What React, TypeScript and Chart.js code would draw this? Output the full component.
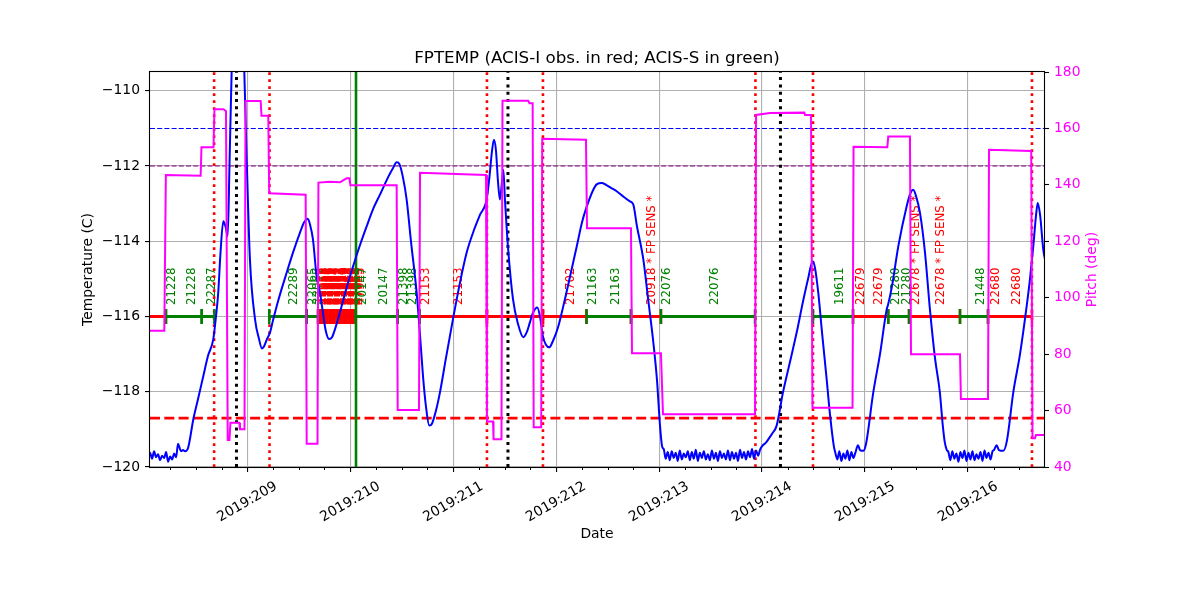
import React, { useEffect, useRef } from 'react';
import { Chart, registerables } from 'chart.js';

Chart.register(...registerables);

// ---------------- data ----------------
const yearLabel = '2019';
const dayMin = 208.055;
const dayMax = 216.739;
const tempMin = -120;
const tempMax = -109.5;
const pitchMin = 40;
const pitchMax = 180;

const tempDays = [
  208.327, 208.341, 208.356, 208.376, 208.395, 208.424, 208.476, 208.521, 208.573, 208.618,
  208.670, 208.696, 208.718, 208.740, 208.767, 208.788, 208.810, 208.827, 208.848, 208.871,
  208.910, 208.944, 208.971, 208.994, 209.026, 209.075, 209.114, 209.143, 209.162, 209.191,
  209.221, 209.250, 209.298, 209.383, 209.444, 209.512, 209.551, 209.587, 209.609, 209.638,
  209.672, 209.706, 209.735, 209.764, 209.794, 209.823, 209.862, 209.900, 209.958, 210.027,
  210.095, 210.160, 210.221, 210.289, 210.367, 210.416, 210.451, 210.478, 210.512, 210.548,
  210.590, 210.645, 210.678, 210.707, 210.736, 210.768, 210.794, 210.833, 210.872, 210.930,
  210.998, 211.066, 211.131, 211.202, 211.260, 211.325, 211.352, 211.377, 211.396, 211.416,
  211.435, 211.454, 211.468, 211.487, 211.503, 211.532, 211.581, 211.630, 211.681, 211.717,
  211.746, 211.775, 211.817, 211.843, 211.872, 211.901, 211.933, 211.969, 212.017, 212.069,
  212.134, 212.200, 212.251, 212.297, 212.361, 212.397, 212.443, 212.484, 212.533, 212.588,
  212.639, 212.717, 212.749, 212.785, 212.847, 212.892, 212.944, 212.980, 213.009, 213.031,
  213.999, 214.038, 214.077, 214.096, 214.142, 214.204, 214.272, 214.337, 214.398, 214.447,
  214.492, 214.514, 214.546, 214.582, 214.628, 214.660, 214.699, 214.932, 214.952, 214.983,
  215.009, 215.081, 215.146, 215.211, 215.223, 215.262, 215.324, 215.405, 215.437, 215.469,
  215.496, 215.534, 215.583, 215.631, 215.680, 215.727, 215.756, 215.775, 215.795, 216.253,
  216.279, 216.301, 216.343, 216.379, 216.441, 216.506, 216.571, 216.603, 216.635, 216.662,
  216.678, 216.701, 216.732, 216.758,
];
const tempVals = [
  -119.38, -119.48, -119.58, -119.55, -119.58, -119.50, -118.73, -118.20, -117.58, -117.05,
  -116.60, -116.00, -115.36, -114.30, -113.47, -113.60, -113.86, -112.00, -109.50, -107.80,
  -107.00, -107.80, -109.50, -111.80, -114.50, -116.07, -116.60, -116.85, -116.80, -116.60,
  -116.42, -116.10, -115.60, -114.83, -114.30, -113.77, -113.50, -113.40, -113.55, -113.95,
  -114.90, -115.36, -115.90, -116.40, -116.60, -116.55, -116.25, -115.89, -115.30, -114.67,
  -114.10, -113.60, -113.15, -112.76, -112.30, -112.05, -111.90, -111.95, -112.30, -112.89,
  -114.00, -115.36, -116.50, -117.59, -118.40, -118.90, -118.85, -118.50, -118.01, -117.10,
  -116.07, -115.10, -114.30, -113.70, -113.30, -112.89, -112.30, -111.60, -111.30, -111.60,
  -112.40, -112.89, -112.60, -112.10, -112.90, -114.14, -115.54, -116.20, -116.55, -116.40,
  -116.15, -115.90, -115.76, -116.00, -116.53, -116.75, -116.82, -116.65, -116.30, -115.73,
  -114.95, -114.14, -113.50, -113.08, -112.63, -112.48, -112.45, -112.50, -112.58, -112.67,
  -112.78, -112.94, -113.02, -113.60, -114.48, -115.50, -116.68, -117.70, -118.90, -119.47,
  -119.45, -119.35, -119.20, -119.12, -118.90, -118.01, -117.20, -116.42, -115.60, -115.00,
  -114.53, -114.70, -115.36, -116.40, -117.67, -118.60, -119.47, -119.42, -119.55, -119.57,
  -119.40, -118.01, -117.00, -115.81, -115.70, -115.20, -114.13, -113.07, -112.75, -112.63,
  -112.80, -113.24, -114.30, -115.81, -117.10, -118.01, -118.90, -119.34, -119.55, -119.55,
  -119.42, -119.55, -119.57, -119.30, -118.01, -117.00, -115.72, -115.00, -114.13, -113.30,
  -112.98, -113.30, -114.22, -114.60,
];

// cold-plateau telemetry samples (regular cadence)
const noiseStep = 0.0195;
const noiseStarts = [208.036, 213.045, 214.712, 215.810];
const noiseA = [-119.70, -119.62, -119.78, -119.58, -119.74, -119.66, -119.82, -119.70, -119.76, -119.60,
  -119.86, -119.72, -119.80, -119.64, -119.74];
const noiseB = [-119.52, -119.78, -119.60, -119.82, -119.58, -119.76, -119.62, -119.84, -119.56, -119.80,
  -119.64, -119.74, -119.58, -119.82, -119.60, -119.78, -119.54, -119.84, -119.62, -119.76,
  -119.58, -119.80, -119.66, -119.82, -119.56, -119.78, -119.62, -119.84, -119.58, -119.76,
  -119.64, -119.80, -119.56, -119.82, -119.60, -119.78, -119.62, -119.84, -119.54, -119.76,
  -119.60, -119.80, -119.58, -119.74, -119.52, -119.78, -119.56, -119.70, -119.54];
const noiseC = [-119.62, -119.80, -119.58, -119.84, -119.64, -119.78, -119.56, -119.82, -119.60, -119.76, -119.62];
const noiseD = [-119.60, -119.82, -119.58, -119.78, -119.64, -119.86, -119.60, -119.76, -119.56, -119.84,
  -119.62, -119.80, -119.58, -119.82, -119.66, -119.78, -119.60, -119.84, -119.56, -119.76,
  -119.62, -119.80, -119.58];
const noiseVals = [noiseA, noiseB, noiseC, noiseD];

const pitchDays = [
  208.000, 208.194, 208.209, 208.547, 208.555, 208.672, 208.681, 208.767, 208.793, 208.810,
  208.827, 208.836, 208.922, 208.929, 208.973, 208.983, 209.130, 209.138, 209.204, 209.213,
  209.567, 209.577, 209.682, 209.691, 209.803, 209.900, 209.965, 209.992, 210.002, 210.451,
  210.461, 210.668, 210.678, 211.319, 211.328, 211.387, 211.392, 211.469, 211.479, 211.729,
  211.741, 211.772, 211.782, 211.855, 211.865, 212.290, 212.300, 212.727, 212.737, 213.018,
  213.038, 213.932, 213.942, 214.078, 214.411, 214.418, 214.476, 214.490, 214.879, 214.889,
  215.217, 215.226, 215.437, 215.447, 215.923, 215.932, 216.195, 216.205, 216.615, 216.627,
  216.651, 216.661, 216.748,
];
const pitchVals = [
  88.3, 88.3, 143.5, 143.2, 153.3, 153.3, 166.8, 166.8, 166.2, 49.6,
  49.6, 55.7, 55.7, 53.4, 53.4, 169.7, 169.7, 164.5, 164.5, 137.0,
  136.5, 48.2, 48.2, 140.8, 141.1, 140.9, 142.3, 142.3, 139.9, 139.9,
  60.2, 60.2, 144.3, 143.5, 56.1, 56.1, 49.8, 49.8, 169.8, 169.8,
  168.9, 168.9, 54.1, 54.1, 156.3, 156.0, 124.6, 124.6, 80.3, 80.3,
  58.7, 58.7, 164.8, 165.5, 165.6, 164.8, 164.8, 61.0, 61.0, 153.5,
  153.3, 157.1, 157.1, 80.0, 80.0, 64.1, 64.1, 152.4, 152.0, 50.2,
  50.2, 51.3, 51.3,
];

// observations (I = ACIS-I red, S = ACIS-S green)
const obsLevel = -116;
const obsStart = [
  207.800, 208.210, 208.557, 209.213, 209.577,
  209.687, 209.710, 209.732, 209.755, 209.778, 209.801, 209.823, 209.846,
  209.869, 209.892, 209.914, 209.937, 209.960, 209.983, 210.005, 210.028,
  210.051, 210.461, 210.675, 211.328, 211.872, 212.295, 212.727, 213.018,
  214.495, 214.884, 215.226, 215.428, 215.923, 216.195,
];
const obsStop = [
  208.210, 208.557, 208.680, 209.577, 209.687,
  209.710, 209.732, 209.755, 209.778, 209.801, 209.823, 209.846, 209.869,
  209.892, 209.914, 209.937, 209.960, 209.983, 210.005, 210.028, 210.051,
  210.461, 210.675, 211.328, 211.872, 212.295, 212.727, 213.018, 213.932,
  214.884, 215.226, 215.428, 215.923, 216.195, 216.622,
];
const obsInst = [
  'I', 'S', 'S', 'S', 'S',
  'I', 'I', 'I', 'I', 'I', 'I', 'I', 'I',
  'I', 'I', 'I', 'I', 'I', 'I', 'I', 'I',
  'S', 'S', 'I', 'I', 'I', 'S', 'I', 'S',
  'S', 'I', 'S', 'I', 'S', 'I',
];

const labelDays = [
  208.210, 208.398, 208.599, 209.391, 209.576, 209.628,
  209.687, 209.698, 209.710, 209.721, 209.732, 209.744, 209.755, 209.767,
  209.778, 209.789, 209.801, 209.812, 209.823, 209.835, 209.846, 209.858,
  209.869, 209.880, 209.892, 209.903, 209.914, 209.926, 209.937, 209.948,
  209.960, 209.971, 209.983, 209.994, 210.005, 210.017, 210.028, 210.039,
  210.061, 210.266, 210.460, 210.551, 210.671, 210.998, 212.079, 212.296,
  212.516, 212.866, 213.018, 213.481, 214.695, 214.896, 215.074, 215.243,
  215.343, 215.437, 215.673, 216.062, 216.207, 216.411,
];
const labelTexts = [
  '21228', '21228', '22287', '22289', '22065', '22065',
  '47958', '47958', '47957', '47957', '47956', '47956', '47955', '47955',
  '47954', '47954', '47953', '47953', '47952', '47952', '47951', '47951',
  '47950', '47950', '47949', '47949', '47948', '47948', '47947', '47947',
  '47946', '47946', '47945', '47945', '47944', '47944', '47943', '47943',
  '20147', '20147', '21398', '21398', '21153', '21153', '21702', '21163',
  '21163', '20918 * FP SENS *', '22076', '22076', '19611', '22679', '22679', '21280',
  '21280', '22678 * FP SENS *', '22678 * FP SENS *', '21448', '22680', '22680',
];
const labelInst = [
  'S', 'S', 'S', 'S', 'S', 'S',
  'I', 'I', 'I', 'I', 'I', 'I', 'I', 'I',
  'I', 'I', 'I', 'I', 'I', 'I', 'I', 'I',
  'I', 'I', 'I', 'I', 'I', 'I', 'I', 'I',
  'I', 'I', 'I', 'I', 'I', 'I', 'I', 'I',
  'S', 'S', 'S', 'S', 'I', 'I', 'I', 'S',
  'S', 'I', 'S', 'S', 'S', 'I', 'I', 'S',
  'S', 'I', 'I', 'S', 'I', 'I',
];

const radDays = [208.678, 209.216, 211.328, 211.872, 213.936, 214.495, 216.622];
const commDays = [208.895, 211.532, 214.179];
const markDays = [210.056];

const limitPlanning = -111;
const limitYellow = -112;
const limitRed = -118.7;

// ---------------- styling ----------------
const FONT = "'DejaVu Sans', 'Liberation Sans', sans-serif";
const COL = {
  temp: '#0000ff',
  pitch: '#ff00ff',
  I: '#ff0000',
  S: '#008000',
  grid: '#b0b0b0',
  black: '#000000',
  purple: '#800080',
};

function fmtMinus(v: number) {
  return v < 0 ? '\u2212' + Math.abs(v) : String(v);
}

function buildTemp() {
  const pts: { x: number; y: number }[] = [];
  tempDays.forEach((d, i) => pts.push({ x: d, y: tempVals[i] }));
  noiseVals.forEach((vals, k) => {
    vals.forEach((v, i) => pts.push({ x: noiseStarts[k] + i * noiseStep, y: v }));
  });
  pts.sort((a, b) => a.x - b.x);
  return pts;
}

function buildObs(inst: string) {
  const pts: { x: number; y: number | null }[] = [];
  obsStart.forEach((s, i) => {
    if (obsInst[i] !== inst) return;
    pts.push({ x: s, y: obsLevel }, { x: obsStop[i], y: obsLevel }, { x: obsStop[i], y: null });
  });
  return pts;
}

function vline(d: number, color: string, width: number, dash: number[]) {
  return {
    type: 'line',
    data: [{ x: d, y: tempMin }, { x: d, y: tempMax }],
    borderColor: color,
    borderWidth: width,
    borderDash: dash,
    borderCapStyle: 'butt',
    pointRadius: 0,
    yAxisID: 'y',
  };
}

function hline(v: number, color: string, width: number, dash: number[]) {
  return {
    type: 'line',
    data: [{ x: dayMin, y: v }, { x: dayMax, y: v }],
    borderColor: color,
    borderWidth: width,
    borderDash: dash,
    borderCapStyle: 'butt',
    pointRadius: 0,
    yAxisID: 'y',
  };
}

const overlay = {
  id: 'overlay',
  beforeDatasetsDraw(chart: any) {
    const { ctx, chartArea: ca } = chart;
    const xs = chart.scales.x;
    const ys = chart.scales.y;
    const yb = ys.getPixelForValue(obsLevel) - 11.5;
    ctx.save();
    ctx.font = `11.8px ${FONT}`;
    ctx.textAlign = 'left';
    ctx.textBaseline = 'alphabetic';
    labelDays.forEach((d, i) => {
      if (d < dayMin || d > dayMax) return;
      const px = xs.getPixelForValue(d);
      if (px < ca.left || px > ca.right) return;
      ctx.save();
      ctx.translate(px + 9.3, yb);
      ctx.rotate(-Math.PI / 2);
      ctx.fillStyle = labelInst[i] === 'I' ? COL.I : COL.S;
      ctx.fillText(labelTexts[i], 0, 0);
      ctx.restore();
    });
    ctx.restore();
  },
  afterDatasetsDraw(chart: any) {
    const { ctx, chartArea: ca } = chart;
    ctx.save();
    ctx.strokeStyle = COL.black;
    ctx.lineWidth = 1.1;
    ctx.strokeRect(Math.round(ca.left) - 0.5, Math.round(ca.top) - 0.5,
      Math.round(ca.right - ca.left) + 1, Math.round(ca.bottom - ca.top) + 1);
    ctx.restore();
  },
  afterDraw(chart: any) {
    const { ctx, chartArea: ca } = chart;
    const xs = chart.scales.x;
    const cx = (ca.left + ca.right) / 2;
    const cy = (ca.top + ca.bottom) / 2;
    ctx.save();
    // minor ticks (6 h)
    ctx.strokeStyle = COL.black;
    ctx.lineWidth = 1;
    for (let q = Math.ceil(dayMin * 4); q <= Math.floor(dayMax * 4); q++) {
      if (q % 4 === 0) continue;
      const px = Math.round(xs.getPixelForValue(q / 4)) + 0.5;
      ctx.beginPath();
      ctx.moveTo(px, ca.bottom);
      ctx.lineTo(px, ca.bottom + 3);
      ctx.stroke();
    }
    // x tick labels
    ctx.fillStyle = COL.black;
    ctx.font = `13.9px ${FONT}`;
    ctx.textAlign = 'center';
    ctx.textBaseline = 'middle';
    xs.ticks.forEach((t: any) => {
      const px = xs.getPixelForValue(t.value);
      ctx.save();
      ctx.translate(px, ca.bottom + 35);
      ctx.rotate(-Math.PI / 6);
      ctx.fillText(`${yearLabel}:${t.value}`, 0, 0);
      ctx.restore();
    });
    // axis titles
    ctx.fillText('Date', cx, ca.bottom + 67);
    ctx.save();
    ctx.translate(88, cy);
    ctx.rotate(-Math.PI / 2);
    ctx.fillText('Temperature (C)', 0, 0);
    ctx.restore();
    ctx.save();
    ctx.fillStyle = COL.pitch;
    ctx.translate(1092, cy);
    ctx.rotate(-Math.PI / 2);
    ctx.fillText('Pitch (deg)', 0, 0);
    ctx.restore();
    // title
    ctx.font = `16.7px ${FONT}`;
    ctx.textBaseline = 'alphabetic';
    ctx.fillText('FPTEMP (ACIS-I obs. in red; ACIS-S in green)', cx, ca.top - 9);
    ctx.restore();
  },
};

export default function App() {
  const ref = useRef<HTMLCanvasElement>(null);
  useEffect(() => {
    if (!ref.current) return;
    const obsStyle = (color: string) => ({
      borderColor: color,
      borderWidth: 2.8,
      borderCapStyle: 'butt',
      pointStyle: 'line',
      pointRotation: 90,
      pointRadius: 7.5,
      pointBorderWidth: 2.5,
      pointBorderColor: color,
      pointBackgroundColor: color,
      yAxisID: 'y',
    });
    const datasets: any[] = [
      {
        label: 'Pitch',
        data: pitchDays.map((d, i) => ({ x: d, y: pitchVals[i] })),
        borderColor: COL.pitch,
        borderWidth: 2,
        pointRadius: 0,
        yAxisID: 'y2',
      },
      {
        label: 'FPTEMP',
        data: buildTemp(),
        borderColor: COL.temp,
        borderWidth: 2,
        pointRadius: 0,
        cubicInterpolationMode: 'monotone',
        yAxisID: 'y',
      },
      { label: 'ACIS-S', data: buildObs('S'), ...obsStyle(COL.S) },
      { label: 'ACIS-I', data: buildObs('I'), ...obsStyle(COL.I) },
      ...commDays.map((d) => vline(d, COL.black, 3, [3, 4.3])),
      ...radDays.map((d) => vline(d, COL.I, 2.6, [2.8, 4.2])),
      ...markDays.map((d) => vline(d, COL.S, 2.6, [])),
      hline(limitPlanning, COL.temp, 1.1, [5, 2.2]),
      hline(limitYellow, COL.purple, 1.1, [5, 2.2]),
      hline(limitRed, COL.I, 2.6, [10, 4.3]),
    ];
    const tickFont = { family: FONT, size: 13.9 };
    const chart = new Chart(ref.current, {
      type: 'line',
      data: { datasets },
      options: {
        responsive: false,
        animation: false,
        events: [],
        layout: { padding: { top: 72, left: 0, right: 0, bottom: 0 } },
        plugins: {
          legend: { display: false },
          tooltip: { enabled: false },
          title: { display: false },
        },
        scales: {
          x: {
            type: 'linear',
            position: 'bottom',
            min: dayMin,
            max: dayMax,
            ticks: { stepSize: 1, includeBounds: false, display: false },
            grid: { color: COL.grid, lineWidth: 1.1, tickColor: COL.black, tickLength: 5, tickWidth: 1.1 },
            border: { display: false },
            afterFit: (s: any) => { s.height = 133; },
          },
          y: {
            type: 'linear',
            position: 'left',
            min: tempMin,
            max: tempMax,
            ticks: {
              stepSize: 2,
              includeBounds: false,
              color: COL.black,
              font: tickFont,
              padding: 5,
              callback: (v: any) => fmtMinus(Number(v)),
            },
            grid: { color: COL.grid, lineWidth: 1.1, tickColor: COL.black, tickLength: 5, tickWidth: 1.1 },
            border: { display: false },
            afterFit: (s: any) => { s.width = 150; },
          },
          y2: {
            type: 'linear',
            position: 'right',
            min: pitchMin,
            max: pitchMax,
            ticks: { stepSize: 20, includeBounds: false, color: COL.pitch, font: tickFont, padding: 5 },
            grid: { drawOnChartArea: false, tickColor: COL.black, tickLength: 5, tickWidth: 1.1 },
            border: { display: false },
            afterFit: (s: any) => { s.width = 156; },
          },
        },
      } as any,
      plugins: [overlay],
    } as any);
    return () => chart.destroy();
  }, []);
  return (
    <div style={{ position: 'absolute', left: 0, top: 0, width: 1200, height: 600, background: '#ffffff' }}>
      <canvas ref={ref} width={1200} height={600} style={{ display: 'block' }} />
    </div>
  );
}
